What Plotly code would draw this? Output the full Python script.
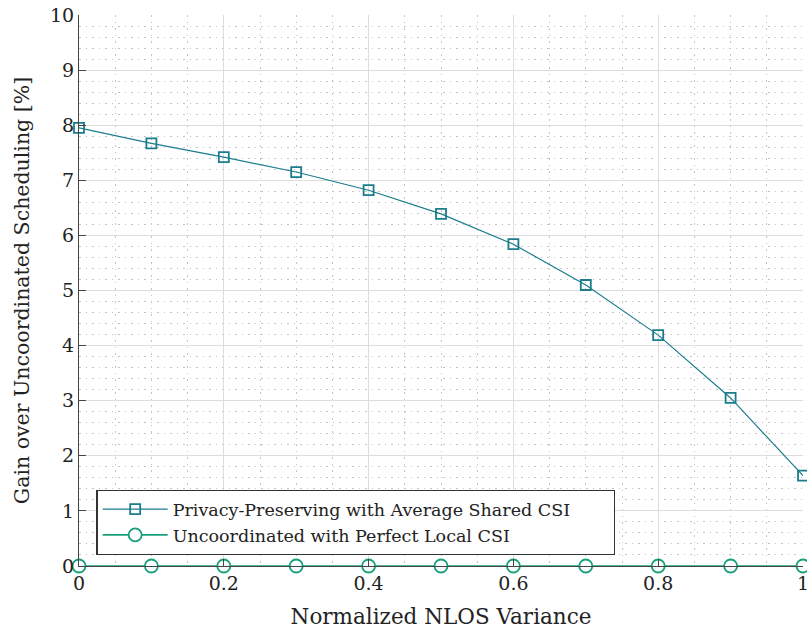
import plotly.graph_objects as go

x_vals = [0, 0.1, 0.2, 0.3, 0.4, 0.5, 0.6, 0.7, 0.8, 0.9, 1.0]
privacy_gain = [7.95, 7.67, 7.42, 7.15, 6.82, 6.39, 5.84, 5.10, 4.19, 3.05, 1.64]
uncoord_gain = [0, 0, 0, 0, 0, 0, 0, 0, 0, 0, 0]
x_ticks = [0, 0.2, 0.4, 0.6, 0.8, 1]
x_tick_text = ["0", "0.2", "0.4", "0.6", "0.8", "1"]
y_ticks = list(range(0, 11))

FONT = "DejaVu Serif"
PAD = "\u00a0" * 7

fig = go.Figure()
fig.add_trace(go.Scatter(
    x=x_vals, y=privacy_gain, mode="lines+markers",
    name="Privacy-Preserving with Average Shared CSI" + PAD,
    line=dict(color="#1b7d8c", width=1.2),
    marker=dict(symbol="square-open", size=10, color="#1b7d8c", line=dict(width=1.8)),
    cliponaxis=False,
))
fig.add_trace(go.Scatter(
    x=x_vals, y=uncoord_gain, mode="lines+markers",
    name="Uncoordinated with Perfect Local CSI",
    line=dict(color="#17a07a", width=1.6),
    marker=dict(symbol="circle", size=13, color="white", line=dict(width=1.8, color="#17a07a")),
    cliponaxis=False,
))

fig.update_layout(
    width=807, height=633,
    margin=dict(l=79, r=4, t=15, b=67, autoexpand=False),
    paper_bgcolor="white", plot_bgcolor="white",
    font=dict(family=FONT, size=17, color="#222222"),
    showlegend=True,
    legend=dict(
        x=0.024, y=0.138, xanchor="left", yanchor="top",
        bordercolor="#333333", borderwidth=1.3, bgcolor="white",
        font=dict(family=FONT, size=17.5, color="#222222"),
        tracegroupgap=0, itemwidth=65,
    ),
    xaxis=dict(
        range=[0, 1], tickvals=x_ticks, ticktext=x_tick_text,
        showgrid=True, gridcolor="#dddddd", gridwidth=1,
        minor=dict(dtick=0.05, showgrid=True, gridcolor="#c4c4c4", griddash="1.5px,5px", gridwidth=1),
        showline=True, linecolor="#444444", linewidth=1,
        ticks="inside", ticklen=7, tickcolor="#444444",
        zeroline=False, automargin=False, ticklabeloverflow="allow",
        title=dict(text="Normalized NLOS Variance", font=dict(size=21.5), standoff=16),
        tickfont=dict(size=19),
    ),
    yaxis=dict(
        range=[0, 10], tickvals=y_ticks,
        showgrid=True, gridcolor="#dddddd", gridwidth=1,
        minor=dict(dtick=0.2, showgrid=True, gridcolor="#c4c4c4", griddash="1.5px,5px", gridwidth=1),
        showline=True, linecolor="#444444", linewidth=1,
        ticks="inside", ticklen=7, tickcolor="#444444",
        zeroline=False, automargin=False, ticklabeloverflow="allow",
        title=dict(text="Gain over Uncoordinated Scheduling [%]", font=dict(size=20.5), standoff=14),
        tickfont=dict(size=19),
    ),
)

fig.write_html("out.html", post_script="document.body.style.margin='0';",
               config={"displayModeBar": False})
